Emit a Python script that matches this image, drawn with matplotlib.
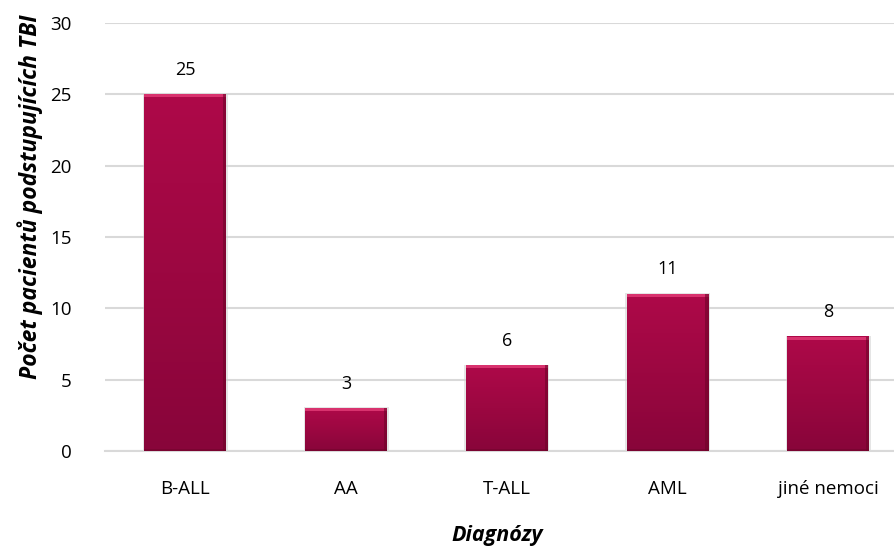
import matplotlib.pyplot as plt
import numpy as np
from matplotlib.colors import LinearSegmentedColormap

diagnozy = ['B-ALL', 'AA', 'T-ALL', 'AML', 'jiné nemoci']
pocty = [25, 3, 6, 11, 8]

plt.rcParams['font.family'] = ['Open Sans', 'DejaVu Sans']

fig = plt.figure(figsize=(8.95, 5.5), dpi=100)
ax = fig.add_axes([105 / 895, 1 - 451 / 550, 790 / 895, 428 / 550])

cmap = LinearSegmentedColormap.from_list('bar', ['#88053A', '#9C0741', '#AE0949'])
w = 0.51
grad = np.linspace(0, 1, 256).reshape(-1, 1)
x = np.arange(len(diagnozy))
for xi, v in zip(x, pocty):
    # vertical gradient, lighter at the top
    ax.imshow(grad, cmap=cmap, aspect='auto', origin='lower',
              extent=(xi - w / 2, xi + w / 2, 0, v), zorder=3)
    # bevel highlights
    ax.add_patch(plt.Rectangle((xi - w / 2, v - 0.2), w, 0.2,
                               color='#D8326E', lw=0, zorder=4))
    ax.add_patch(plt.Rectangle((xi + w / 2 - 0.02, 0), 0.02, v,
                               color='#6E0429', lw=0, zorder=4, alpha=0.6))
    ax.add_patch(plt.Rectangle((xi - w / 2, 0), w, 0.15,
                               color='#6E0429', lw=0, zorder=4, alpha=0.5))
    ax.add_patch(plt.Rectangle((xi - w / 2 - 0.01, 0), w + 0.02, v + 0.05,
                               color='#cccccc', lw=0, zorder=2, alpha=0.5))
    ax.text(xi, v + 1.1, str(v), ha='center', va='bottom', fontsize=13, color='#000000')

ax.set_xlim(-0.5, -0.5 + 790 / 160.75)
ax.set_ylim(0, 30)
ax.set_yticks(range(0, 31, 5))
ax.set_xticks(x)
ax.set_xticklabels(diagnozy)
ax.grid(axis='y', color='#D9D9D9', lw=1.5, zorder=0)
ax.set_axisbelow(True)
for s in ['top', 'right', 'left']:
    ax.spines[s].set_visible(False)
ax.spines['bottom'].set_color('#D9D9D9')
ax.spines['bottom'].set_linewidth(1.5)
ax.tick_params(axis='both', length=0, labelsize=13.5, colors='#000000')
ax.tick_params(axis='x', pad=21)
ax.tick_params(axis='y', pad=24)

fig.text(30 / 895, 1 - 197 / 550, 'Počet pacientů podstupujících TBI', fontsize=16.5,
         fontweight='bold', fontstyle='italic', rotation=90, ha='center', va='center')
fig.text(497 / 895, 1 - 535 / 550, 'Diagnózy', fontsize=15.5, fontweight='bold',
         fontstyle='italic', ha='center', va='center')

fig.savefig('out.png', dpi=100)
